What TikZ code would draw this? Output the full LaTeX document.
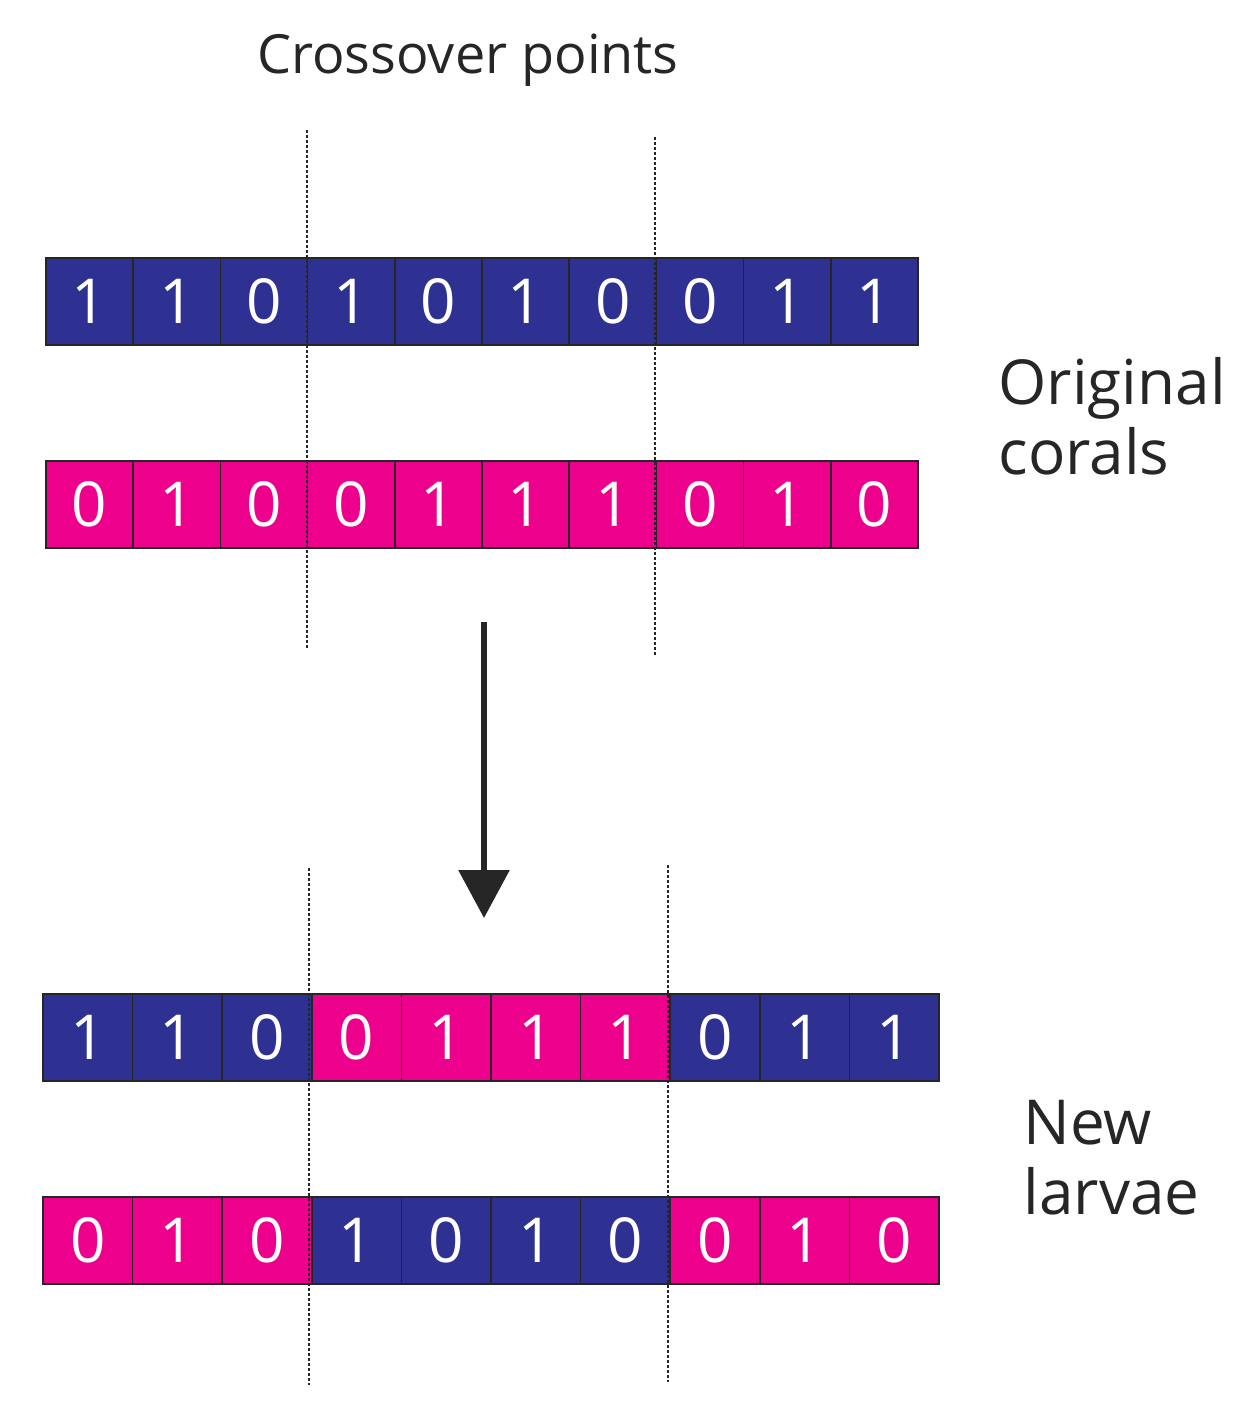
\documentclass[tikz,border=0pt]{standalone}
\usepackage{fontspec}
\setmainfont{Open Sans}
\usetikzlibrary{arrows.meta}
\definecolor{cblue}{HTML}{2E3192}
\definecolor{cpink}{HTML}{EC008C}
\begin{document}
\begin{tikzpicture}[x=1pt,y=-1pt,
 cell/.style={draw=black!85,line width=1.5pt,text=white,minimum height=87pt,inner sep=0pt,font=\fontsize{62}{62}\selectfont},
 cut/.style={densely dashed,line width=2pt,black!85},
 lab/.style={font=\fontsize{62}{70}\selectfont,text=black!85,align=left,anchor=west}]
\useasboundingbox (0,0) rectangle (1244,1421);
\def\rowA{1/cblue,1/cblue,0/cblue,1/cblue,0/cblue,1/cblue,0/cblue,0/cblue,1/cblue,1/cblue}
\def\rowB{0/cpink,1/cpink,0/cpink,0/cpink,1/cpink,1/cpink,1/cpink,0/cpink,1/cpink,0/cpink}
\def\rowC{1/cblue,1/cblue,0/cblue,0/cpink,1/cpink,1/cpink,1/cpink,0/cblue,1/cblue,1/cblue}
\def\rowD{0/cpink,1/cpink,0/cpink,1/cblue,0/cblue,1/cblue,0/cblue,0/cpink,1/cpink,0/cpink}
\foreach \d/\c [count=\i from 0] in \rowA
  \node[cell,fill=\c,minimum width=87.2pt] (a\i) at (46+43.6+87.2*\i,301.5) {\d};
\foreach \d/\c [count=\i from 0] in \rowB
  \node[cell,fill=\c,minimum width=87.2pt] (b\i) at (46+43.6+87.2*\i,504.5) {\d};
\foreach \d/\c [count=\i from 0] in \rowC
  \node[cell,fill=\c,minimum width=89.6pt] (c\i) at (43+44.8+89.6*\i,1037.5) {\d};
\foreach \d/\c [count=\i from 0] in \rowD
  \node[cell,fill=\c,minimum width=89.6pt] (d\i) at (43+44.8+89.6*\i,1240.5) {\d};
\coordinate (t1a) at (307,130); \coordinate (t1b) at (307,648);
\coordinate (t2a) at (655,137); \coordinate (t2b) at (655,655);
\coordinate (u1a) at (309,868); \coordinate (u1b) at (309,1385);
\coordinate (u2a) at (668,865); \coordinate (u2b) at (668,1382);
\draw[cut] (t1a) -- (t1b); \draw[cut] (t2a) -- (t2b);
\draw[cut] (u1a) -- (u1b); \draw[cut] (u2a) -- (u2b);
\coordinate (ar1) at (484,622); \coordinate (ar2) at (484,918);
\draw[line width=6pt,black!85,-{Triangle[width=50pt,length=48pt]}] (ar1) -- (ar2);
\node[font=\fontsize{54}{54}\selectfont,text=black!85] (title) at (468,60) {Crossover points};
\node[lab] (orig) at (995,416) {Original\\corals};
\node[lab] (new) at (1020,1158) {New\\larvae};
\end{tikzpicture}
\end{document}
